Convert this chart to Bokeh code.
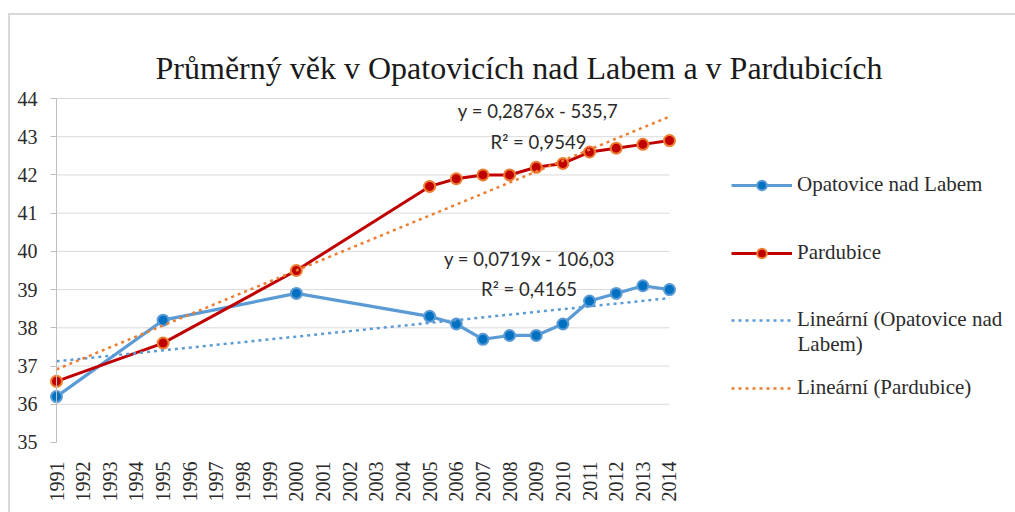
import numpy as np
from bokeh.plotting import figure
from bokeh.models import Range1d, FixedTicker, Label, Legend, LegendItem
from bokeh.core.properties import value
from bokeh.embed import file_html
from bokeh.resources import INLINE

# ---------------- data ----------------
all_years = list(range(1991, 2015))
years = [1991, 1995, 2000, 2005, 2006, 2007, 2008, 2009, 2010, 2011, 2012, 2013, 2014]
opatovice = [36.2, 38.2, 38.9, 38.3, 38.1, 37.7, 37.8, 37.8, 38.1, 38.7, 38.9, 39.1, 39.0]
pardubice = [36.6, 37.6, 39.5, 41.7, 41.9, 42.0, 42.0, 42.2, 42.3, 42.6, 42.7, 42.8, 42.9]
y_ticks = [35, 36, 37, 38, 39, 40, 41, 42, 43, 44]
trend_opatovice = [0.0719, -106.03]   # slope, intercept
trend_pardubice = [0.2876, -535.7]
eq_opatovice = ["y = 0,0719x - 106,03", "R² = 0,4165"]
eq_pardubice = ["y = 0,2876x - 535,7", "R² = 0,9549"]
title_text = "Průměrný věk v Opatovicích nad Labem a v Pardubicích"
names = ["Opatovice nad Labem", "Pardubice",
         "Lineární (Opatovice nad", "Labem)", "Lineární (Pardubice)"]

# ---------------- style ----------------
BLUE_L = "#5b9bd5"
BLUE_F = "#0070c0"
RED = "#c00000"
ORANGE = "#ed7d31"
GRID = "#d9d9d9"
AXIS = "#bfbfbf"
TXT = "#2b2b2b"
SERIF = "'Liberation Serif', 'Times New Roman', serif"

W, H = 1015, 512
X1991 = 56                  # canvas x of the first year
PX_X = 26.652               # px per year
PX_Y = 38.22                # px per unit of age
TOP44 = 98                  # canvas y of the 44 gridline
x0 = all_years[0] - X1991 / PX_X
x1 = x0 + W / PX_X
y0 = y_ticks[-1] - (H - TOP44) / PX_Y
y1 = y_ticks[-1] + TOP44 / PX_Y

p = figure(width=W, height=H, output_backend="svg", toolbar_location=None,
           x_range=Range1d(x0, x1), y_range=Range1d(y0, y1), min_border=0)
p.styles = {
    "background-image": "linear-gradient(#d9d9d9, #d9d9d9), linear-gradient(#d9d9d9, #d9d9d9)",
    "background-position": "8px 13px, 8px 13px",
    "background-size": "2px 100%, 100% 2px",
    "background-repeat": "no-repeat",
    "background-color": "white",
}
p.outline_line_color = None
p.background_fill_alpha = 0
p.border_fill_alpha = 0
p.xgrid.grid_line_color = None
p.ygrid.grid_line_color = None

# x axis: placed at the bottom of the value range
xax = p.xaxis[0]
xax.fixed_location = y_ticks[0]
xax.bounds = (all_years[0], all_years[-1])
xax.ticker = FixedTicker(ticks=all_years)
xax.axis_line_color = None
xax.major_tick_line_color = None
xax.minor_tick_line_color = None
xax.major_label_text_color = None

# y axis: placed at the first year
yax = p.yaxis[0]
yax.fixed_location = all_years[0]
yax.bounds = (y_ticks[0], y_ticks[-1])
yax.ticker = FixedTicker(ticks=y_ticks)
yax.axis_line_color = AXIS
yax.major_tick_in = 0
yax.major_tick_out = 6
yax.major_tick_line_color = AXIS
yax.minor_tick_line_color = None
yax.major_label_text_color = None

# gridlines (from tick values)
p.segment(x0=all_years[0], x1=all_years[-1], y0=y_ticks[1:], y1=y_ticks[1:],
          line_color=GRID, line_width=1)

# tick labels (serif)
p.text(x=[all_years[0]] * len(y_ticks), y=y_ticks, text=[str(v) for v in y_ticks],
       x_offset=-19, text_align="right", text_baseline="middle",
       text_font=value(SERIF), text_font_size="20px", text_color=TXT)
p.text(x=all_years, y=[y_ticks[0]] * len(all_years), text=[str(v) for v in all_years],
       y_offset=19, angle=np.pi / 2, text_align="right", text_baseline="middle",
       text_font=value(SERIF), text_font_size="20px", text_color=TXT)

# series
l1 = p.line(years, opatovice, line_color=BLUE_L, line_width=3.2)
m1 = p.scatter(years, opatovice, size=11, fill_color=BLUE_F, line_color=BLUE_L, line_width=2)
l2 = p.line(years, pardubice, line_color=RED, line_width=3)
m2 = p.scatter(years, pardubice, size=11, fill_color=RED, line_color=ORANGE, line_width=2)

# trend lines
tx = np.array([all_years[0], all_years[-1]], dtype=float)
t1 = p.line(tx, trend_opatovice[0] * tx + trend_opatovice[1], line_color=BLUE_L,
            line_width=2.5, line_dash="3 4")
t2 = p.line(tx, trend_pardubice[0] * tx + trend_pardubice[1], line_color=ORANGE,
            line_width=2.5, line_dash="3 4")

# labels (positions in canvas px; frame covers the whole canvas)
def add_label(text, cx, cy, font, size, color=TXT, align="center", baseline="middle"):
    p.add_layout(Label(x=cx, y=H - cy, x_units="screen", y_units="screen",
                       text=text, text_font=font, text_font_size=size,
                       text_color=color, text_align=align, text_baseline=baseline))

add_label(eq_pardubice[0], 537.5, 110, "Lato", "18.5px")
add_label(eq_pardubice[1], 538, 141, "Lato", "18.5px")
add_label(eq_opatovice[0], 529, 258, "Lato", "18.5px")
add_label(eq_opatovice[1], 528.5, 288, "Lato", "18.5px")

# title
add_label(title_text, 518.5, 67, SERIF, "32px", color="#1a1a1a", baseline="alphabetic")

# legends (location = bottom-left corner, from frame bottom-left)
def add_legend(label, renderers, center_y):
    lg = Legend(items=[LegendItem(label=label, renderers=renderers)],
                location=(731, H - (center_y + 12)),
                glyph_width=61, glyph_height=24, label_height=24, label_standoff=5,
                padding=0, margin=0, spacing=0, border_line_color=None,
                background_fill_alpha=0, label_text_font=SERIF,
                label_text_font_size="21px", label_text_color=TXT)
    p.add_layout(lg, "center")

add_legend(names[0], [l1, m1], 185)
add_legend(names[1], [l2, m2], 253)
add_legend(names[2], [t1], 320)
add_legend(names[4], [t2], 388)
add_label(names[3], 797, 343, SERIF, "21px", align="left")

open("out.html", "w").write(file_html(p, INLINE))
